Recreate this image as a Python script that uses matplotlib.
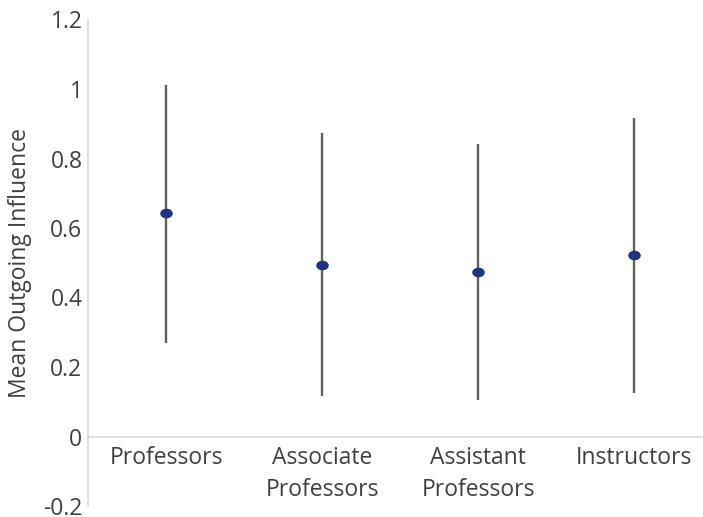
import matplotlib
matplotlib.use("Agg")
import matplotlib.pyplot as plt
from matplotlib.path import Path
from matplotlib.transforms import Affine2D
import numpy as np

categories = ["Professors", "Associate\nProfessors", "Assistant\nProfessors", "Instructors"]
means = [0.643, 0.494, 0.473, 0.522]
upper = [1.012, 0.873, 0.842, 0.917]
lower = [0.269, 0.117, 0.105, 0.125]
yticks = [-0.2, 0, 0.2, 0.4, 0.6, 0.8, 1.0, 1.2]
ytick_labels = ["-0.2", "0", "0.2", "0.4", "0.6", "0.8", "1", "1.2"]

plt.rcParams['font.family'] = ['Open Sans', 'DejaVu Sans']

W, H = 703, 517
fig = plt.figure(figsize=(W/100, H/100), dpi=100)
x0, x1 = 88, 712
y_top, y_bot = 19.5, 506
ax = fig.add_axes([x0/W, 1 - y_bot/H, (x1-x0)/W, (y_bot-y_top)/H])

x = np.arange(len(categories))
m = np.array(means)
err = [m - np.array(lower), np.array(upper) - m]
ax.errorbar(x, m, yerr=err, fmt='none', ecolor='#606060', elinewidth=1.7, capsize=0, zorder=2)
ellipse = Path.unit_circle().transformed(Affine2D().scale(1.35, 1.0))
ax.plot(x, m, linestyle='none', marker=ellipse, color='#1f3380', markersize=8, zorder=3)

ax.set_xlim(-0.5, 3.5)
ax.set_ylim(-0.2, 1.2)
ax.axhline(0, color='#d9d9d9', lw=1.2, zorder=1)

for s in ['top', 'right', 'bottom']:
    ax.spines[s].set_visible(False)
ax.spines['left'].set_color('#d9d9d9')
ax.spines['left'].set_linewidth(1.2)

ax.set_yticks(yticks)
ax.set_yticklabels(ytick_labels, fontsize=16.5, color='#404040')
ax.set_xticks([])
ax.tick_params(axis='y', length=0, pad=4)

for xi, lab in zip(x, categories):
    ax.text(xi, -0.028, lab, ha='center', va='top', fontsize=16.5, color='#404040',
            linespacing=1.45, transform=ax.transData)

ax.set_ylabel("Mean Outgoing Influence", fontsize=16.5, color='#404040', labelpad=8)

fig.savefig("out.png", dpi=100)
